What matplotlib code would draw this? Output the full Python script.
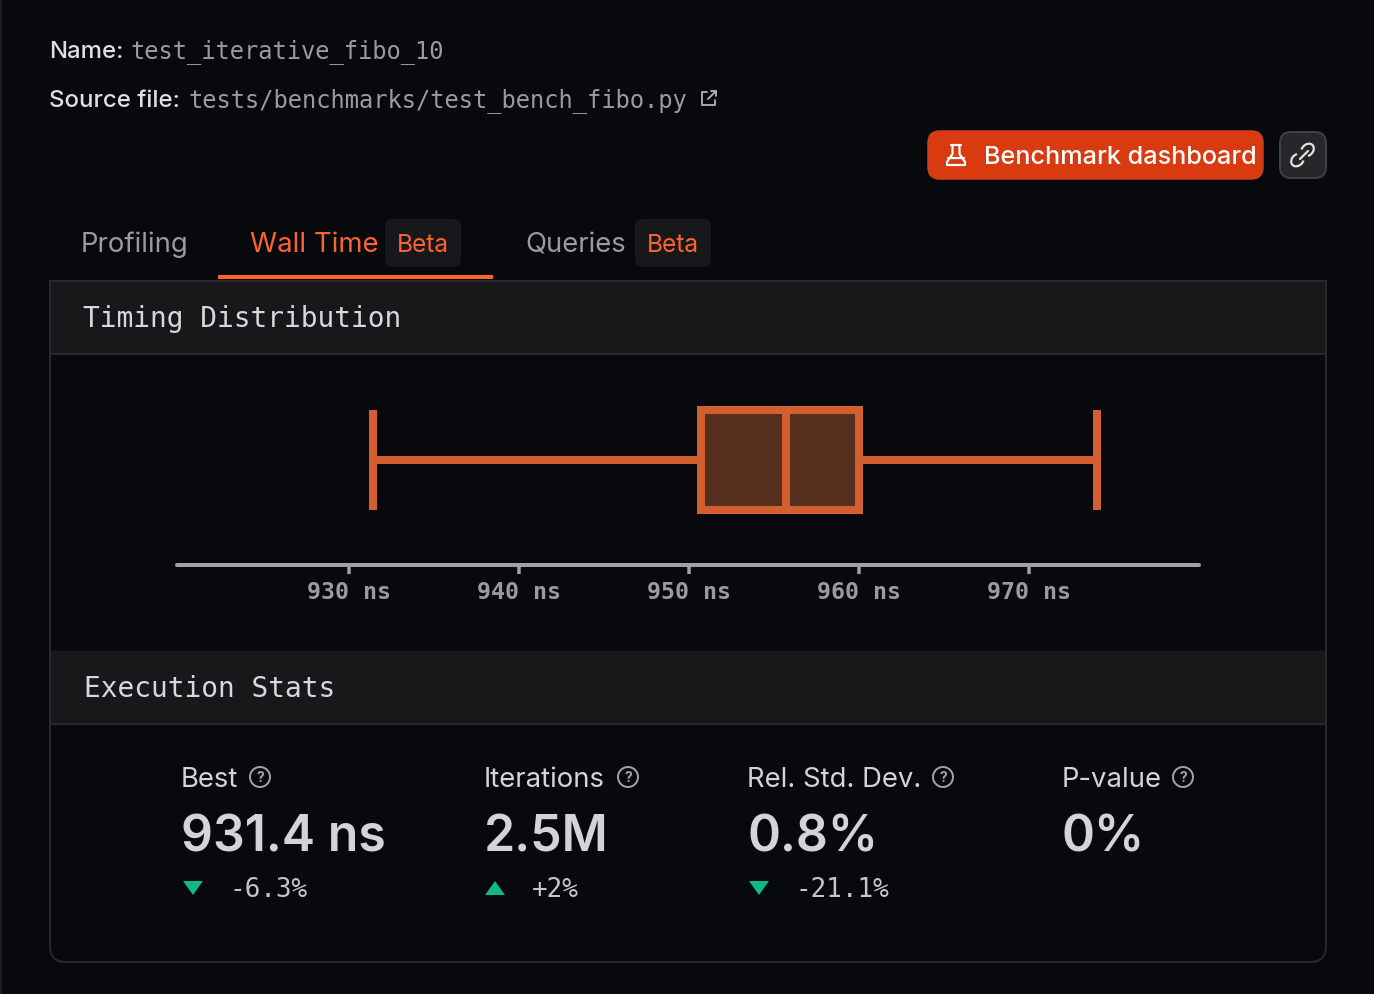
import matplotlib
matplotlib.use("Agg")
import matplotlib.pyplot as plt
from matplotlib.patches import FancyBboxPatch, Rectangle, Polygon, Circle, Arc
from matplotlib.lines import Line2D

# ---- data ----
box_whislo = 931.4
box_q1 = 950.7
box_median = 955.7
box_q3 = 960.0
box_whishi = 974.0
tick_values = [930, 940, 950, 960, 970]
tick_labels = ["930 ns", "940 ns", "950 ns", "960 ns", "970 ns"]
axis_range = [919.9, 980.0]
stat_names = ["Best", "Iterations", "Rel. Std. Dev.", "P-value"]
stat_values = ["931.4 ns", "2.5M", "0.8%", "0%"]
stat_deltas = ["-6.3%", "+2%", "-21.1%", ""]
stat_directions = ["down", "up", "down", ""]
tab_names = ["Profiling", "Wall Time", "Queries"]

# ---- style ----
W, H = 1374, 994
BG = "#08090c"
HEAD = "#18181a"
BORDER = "#29292c"
ORANGE = "#d35f30"
ACCENT = "#fb6430"
MONO = "DejaVu Sans Mono"
SANS = "Inter"
plt.rcParams["font.family"] = [SANS, "DejaVu Sans"]


def px(s):
    return s * 0.72


fig = plt.figure(figsize=(W / 100, H / 100), dpi=100, facecolor=BG)
bg = fig.add_axes([0, 0, 1, 1])
bg.set_xlim(0, W)
bg.set_ylim(H, 0)
bg.axis("off")


def rbox(x0, y0, x1, y1, r, fc, ec="none", lw=0, z=2):
    p = FancyBboxPatch((x0, y0), x1 - x0, y1 - y0, boxstyle=f"round,pad=0,rounding_size={r}",
                       fc=fc, ec=ec, lw=px(lw), zorder=z)
    bg.add_patch(p)


def txt(x, y, s, size, color, family=SANS, weight="normal", ha="left"):
    bg.text(x, y, s, fontsize=px(size), color=color, family=family, fontweight=weight,
            ha=ha, va="baseline", zorder=6)


def stroke(xs, ys, color, lw=2, z=6):
    bg.add_line(Line2D(xs, ys, color=color, lw=px(lw), zorder=z, solid_capstyle="round",
                       solid_joinstyle="round"))


# page left edge
stroke([0.5, 0.5], [0, H], "#222225", 1.5)

# meta lines
txt(49, 58, "Name:", 24, "#dfdfe3", weight="medium")
txt(131, 58, "test_iterative_fibo_10", 23.7, "#9a9aa2", MONO)
txt(49, 107, "Source file:", 24, "#dfdfe3", weight="medium")
txt(188, 107, "tests/benchmarks/test_bench_fibo.py", 23.7, "#9a9aa2", MONO)
# external link icon
stroke([707, 702, 702, 715, 715], [92, 92, 105, 105, 100], "#b5b5bb", 1.8)
stroke([708, 716], [99, 91], "#b5b5bb", 1.8)
stroke([711, 716, 716], [91, 91, 96], "#b5b5bb", 1.8)

# buttons
rbox(928, 131, 1263, 179, 12, "#d93a0f", "#c8431c", 1.5)
txt(984, 164, "Benchmark dashboard", 25.2, "#ffffff", weight="medium")
stroke([951, 961], [145, 145], "#ffffff", 2.2)
stroke([952.5, 952.5, 947, 947, 965, 965, 959.5, 959.5],
       [145, 154, 162, 165, 165, 162, 154, 145], "#ffffff", 2.2)
stroke([948, 964], [158, 158], "#ffffff", 2.2)
rbox(1280, 132, 1326, 178, 11, "#27272a", "#3f3f46", 2)
stroke([1300, 1308], [159, 151], "#e4e4e7", 2.2)
bg.add_patch(Arc((1297.5, 160), 14, 11, angle=-45, theta1=50, theta2=310, ec="#e4e4e7", lw=px(2.2), zorder=6))
bg.add_patch(Arc((1307.5, 150), 14, 11, angle=-45, theta1=230, theta2=490, ec="#e4e4e7", lw=px(2.2), zorder=6))

# tabs
txt(81, 252, tab_names[0], 27.5, "#9a9aa2")
txt(250, 252, tab_names[1], 27.5, ACCENT)
txt(525, 252, tab_names[2], 27.5, "#9a9aa2")
for x0 in (385, 635):
    rbox(x0, 219, x0 + 76, 267, 8, "#18181b")
    txt(x0 + 38, 252, "Beta", 24.5, ACCENT, ha="center")
bg.add_patch(Rectangle((218, 275), 275, 4, fc=ACCENT, ec="none", zorder=5))

# panel
rbox(50, 281, 1326, 962, 16, BG, BORDER, 2, z=2)
bg.add_patch(Rectangle((50, 281), 1276, 73, fc=HEAD, ec=BORDER, lw=px(2), zorder=3))
bg.add_patch(Rectangle((51, 651), 1274, 73, fc=HEAD, ec="none", zorder=3))
stroke([50, 1326], [724, 724], BORDER, 2, z=4)
txt(83, 327, "Timing Distribution", 27.9, "#d8d8dc", MONO)
txt(84, 697, "Execution Stats", 27.9, "#d8d8dc", MONO)

# box plot, in its own axes
L, R, T, B = 177, 1199, 400, 565
ax = fig.add_axes([L / W, 1 - B / H, (R - L) / W, (B - T) / H], facecolor="none")
ax.set_xlim(*axis_range)
ax.set_ylim(B, T)  # pixel rows for the band position only
stats = [dict(whislo=box_whislo, q1=box_q1, med=box_median, q3=box_q3, whishi=box_whishi, fliers=[])]
lw = px(8)
ax.bxp(stats, positions=[460], widths=[100], orientation="horizontal", patch_artist=True,
       showfliers=False, manage_ticks=False, capwidths=[100],
       boxprops=dict(facecolor="#55301e", edgecolor=ORANGE, linewidth=lw, joinstyle="miter"),
       medianprops=dict(color=ORANGE, linewidth=lw, solid_capstyle="butt"),
       whiskerprops=dict(color=ORANGE, linewidth=lw, solid_capstyle="butt"),
       capprops=dict(color=ORANGE, linewidth=lw, solid_capstyle="butt"))
for s in ("top", "left", "right"):
    ax.spines[s].set_visible(False)
ax.spines["bottom"].set_linewidth(px(4))
ax.spines["bottom"].set_color("#a1a1aa")
ax.spines["bottom"].set_capstyle("round")
ax.set_yticks([])
ax.set_xticks(tick_values)
ax.set_xticklabels(tick_labels, family=MONO, fontweight="bold", fontsize=px(23.2), color="#9a9aa2")
ax.tick_params(axis="x", length=px(9), width=px(3.5), color="#a1a1aa", pad=px(7))

# stats
xs = [181, 484, 747, 1062]
help_x = [260, 628, 943, 1183]
for x, hx, name, val, delta, d in zip(xs, help_x, stat_names, stat_values, stat_deltas, stat_directions):
    txt(x, 787, name, 27.5, "#d4d4d8")
    bg.add_patch(Circle((hx, 777), 10, fc="none", ec="#a1a1aa", lw=px(2), zorder=6))
    bg.text(hx, 777.5, "?", fontsize=px(14), color="#a1a1aa", ha="center", va="center", fontweight="bold", zorder=6)
    txt(x, 851, val, 50, "#d4d4d8", weight="semibold")
    if d == "down":
        bg.add_patch(Polygon([(x + 2, 881), (x + 22, 881), (x + 12, 895)], fc="#10b981", ec="none", zorder=6))
    elif d == "up":
        bg.add_patch(Polygon([(x + 1, 895), (x + 21, 895), (x + 11, 881)], fc="#10b981", ec="none", zorder=6))
    if delta:
        txt(x + 48, 897, delta, 26, "#c4c4ca", MONO)

fig.savefig("out.png", dpi=100, facecolor=BG)
